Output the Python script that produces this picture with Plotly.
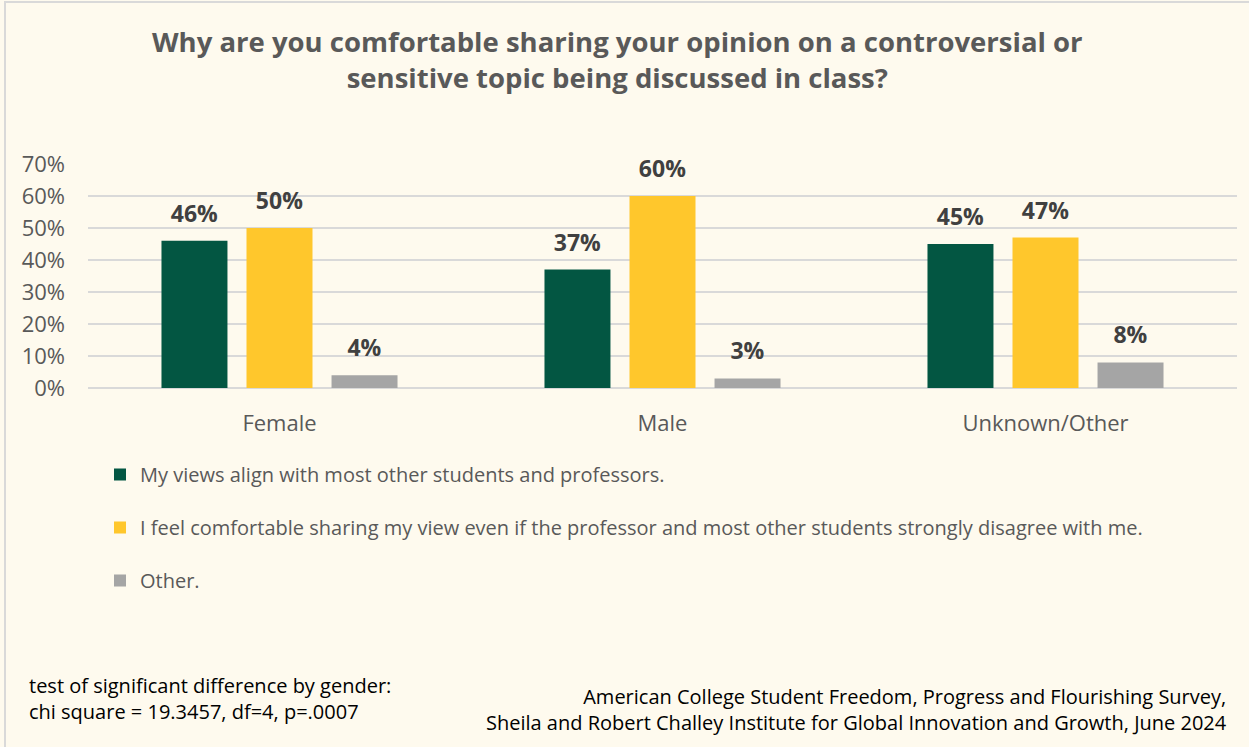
import plotly.graph_objects as go

# Survey results by gender (share of respondents)
categories = ["Female", "Male", "Unknown/Other"]
aligned_views = [0.46, 0.37, 0.45]
comfortable_disagreeing = [0.50, 0.60, 0.47]
other_reason = [0.04, 0.03, 0.08]

series_names = [
    "My views align with most other students and professors.",
    "I feel comfortable sharing my view even if the professor and most other students strongly disagree with me.",
    "Other.",
]
series_values = [aligned_views, comfortable_disagreeing, other_reason]
series_colors = ["#035642", "#FFC72C", "#A5A5A5"]

y_ticks = [0, 0.1, 0.2, 0.3, 0.4, 0.5, 0.6, 0.7]

W, H = 1249, 747
L, R, T, B = 88, 12, 164, 359
BG = "#FEFAEE"
FONT = "Open Sans"
LABEL_LIFT = 0.028  # space between bar top and its value label (data units)

fig = go.Figure()
for i, (name, vals, col) in enumerate(zip(series_names, series_values, series_colors)):
    grp = f"g{i}"
    fig.add_trace(go.Bar(
        x=categories,
        y=vals,
        name=name,
        marker=dict(color=col, line=dict(width=0)),
        offsetgroup=grp,
        legendgroup=grp,
        hoverinfo="skip",
    ))
    # transparent carrier that holds the value label a little above the bar
    fig.add_trace(go.Bar(
        x=categories,
        y=[LABEL_LIFT] * len(vals),
        base=vals,
        marker=dict(color="rgba(0,0,0,0)", line=dict(width=0)),
        text=[f"{v:.0%}" for v in vals],
        textposition="outside",
        cliponaxis=False,
        textfont=dict(family=FONT, size=23, color="#404040", weight="bold"),
        offsetgroup=grp,
        legendgroup=grp,
        showlegend=False,
        hoverinfo="skip",
    ))

fig.update_layout(
    width=W,
    height=H,
    margin=dict(l=L, r=R, t=T, b=B, autoexpand=False),
    paper_bgcolor=BG,
    plot_bgcolor=BG,
    font=dict(family=FONT, color="#595959"),
    barmode="group",
    bargap=0.334,
    bargroupgap=0.224,
    showlegend=True,
    legend=dict(
        x=(100 - L) / (W - L - R),
        y=(H - B - 455) / (H - T - B),
        xanchor="left",
        yanchor="top",
        orientation="v",
        tracegroupgap=24,
        bgcolor="rgba(0,0,0,0)",
        font=dict(family=FONT, size=20, color="#595959"),
        itemclick=False,
        itemdoubleclick=False,
    ),
    xaxis=dict(
        showgrid=False,
        showline=False,
        zeroline=False,
        ticks="",
        tickfont=dict(family=FONT, size=22, color="#595959"),
        ticklabelstandoff=20,
    ),
    yaxis=dict(
        range=[0, 0.7],
        tickvals=y_ticks,
        tickformat=".0%",
        showgrid=True,
        gridcolor="#D9D9D9",
        gridwidth=2,
        zeroline=True,
        zerolinecolor="#D9D9D9",
        zerolinewidth=2,
        showline=False,
        ticks="",
        tickfont=dict(family=FONT, size=22, color="#595959"),
        ticklabelstandoff=22,
    ),
)

# Chart title
fig.add_annotation(
    xref="paper", yref="paper",
    x=(617 - L) / (W - L - R), y=(H - B - 59) / (H - T - B),
    xanchor="center", yanchor="middle",
    text="Why are you comfortable sharing your opinion on a controversial or<br>sensitive topic being discussed in class?",
    showarrow=False,
    align="center",
    font=dict(family=FONT, size=27.5, color="#595959", weight="bold"),
)

# Statistical test note (bottom left)
fig.add_annotation(
    xref="paper", yref="paper",
    x=(27 - L) / (W - L - R), y=(H - B - 698) / (H - T - B),
    xanchor="left", yanchor="middle",
    text="test of significant difference by gender:<br>chi square = 19.3457, df=4, p=.0007",
    showarrow=False,
    align="left",
    font=dict(family=FONT, size=20, color="#000000"),
)

# Source note (bottom right)
fig.add_annotation(
    xref="paper", yref="paper",
    x=(1229 - L) / (W - L - R), y=(H - B - 709) / (H - T - B),
    xanchor="right", yanchor="middle",
    text="American College Student Freedom, Progress and Flourishing Survey,<br>Sheila and Robert Challey Institute for Global Innovation and Growth, June 2024",
    showarrow=False,
    align="right",
    font=dict(family=FONT, size=20, color="#000000"),
)

# Light frame around the chart
fig.add_shape(
    type="rect",
    xref="paper", yref="paper",
    x0=(5 - L) / (W - L - R), x1=(W + 5 - L) / (W - L - R),
    y0=(H - B - (H + 5)) / (H - T - B), y1=(H - B - 2) / (H - T - B),
    line=dict(color="#D9D9D9", width=2),
    fillcolor="rgba(0,0,0,0)",
    layer="below",
)

fig.write_html("out.html")
